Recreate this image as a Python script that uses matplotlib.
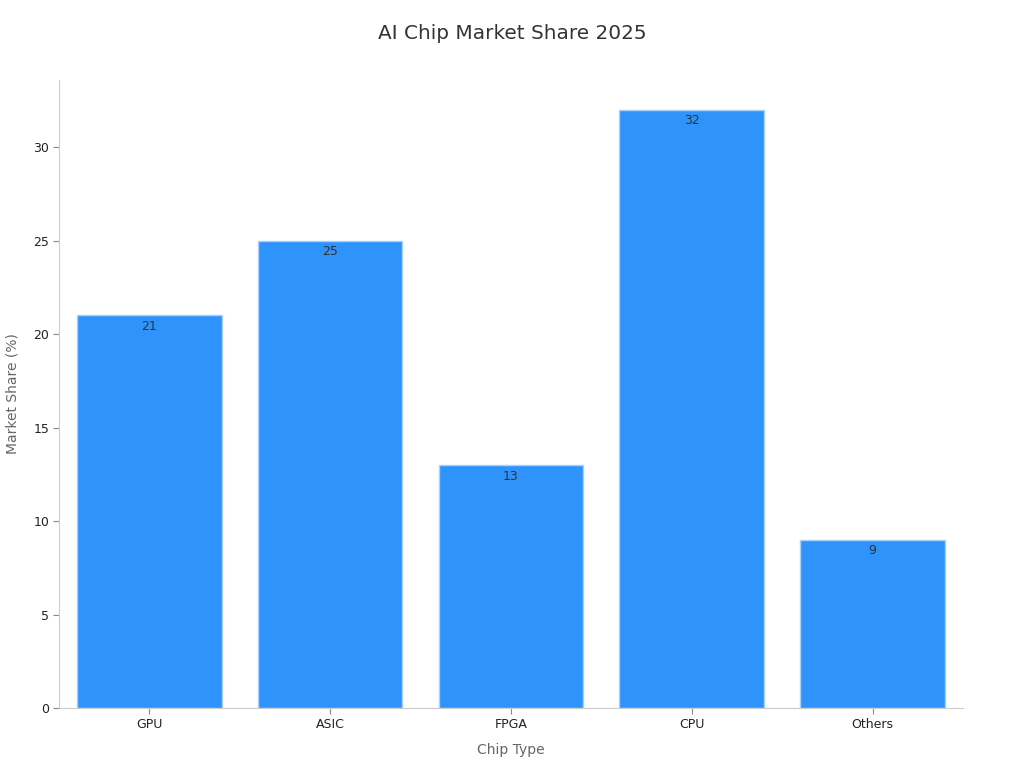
import matplotlib
matplotlib.use("Agg")
import matplotlib.pyplot as plt

categories = ["GPU", "ASIC", "FPGA", "CPU", "Others"]
values = [21, 25, 13, 32, 9]

fig = plt.figure(figsize=(10.24, 7.68), dpi=100)
ax = fig.add_axes([0.0576, 0.078, 0.8828, 0.818])

bars = ax.bar(range(len(categories)), values, width=0.8, color="#2E93FA",
              edgecolor="#A9D1FC", linewidth=1.0)
for i, v in enumerate(values):
    ax.text(i, v - 0.25, f"{v}", ha="center", va="top", fontsize=9, color="#333333")

ax.set_xlim(-0.5, 4.5)
ax.set_ylim(0, 33.6)
ax.set_xticks(range(len(categories)))
ax.set_xticklabels(categories)
ax.set_yticks([0, 5, 10, 15, 20, 25, 30])
ax.tick_params(axis="both", labelsize=9, colors="#222222", length=4, color="#888888", pad=3)
for s in ["top", "right"]:
    ax.spines[s].set_visible(False)
for s in ["left", "bottom"]:
    ax.spines[s].set_color("#CCCCCC")
ax.set_xlabel("Chip Type", fontsize=10, color="#666666", labelpad=9)
ax.set_ylabel("Market Share (%)", fontsize=10, color="#666666", labelpad=10)
fig.text(0.5, 0.957, "AI Chip Market Share 2025", ha="center", va="center",
         fontsize=14.4, color="#333333")

fig.savefig("out.png", dpi=100)
